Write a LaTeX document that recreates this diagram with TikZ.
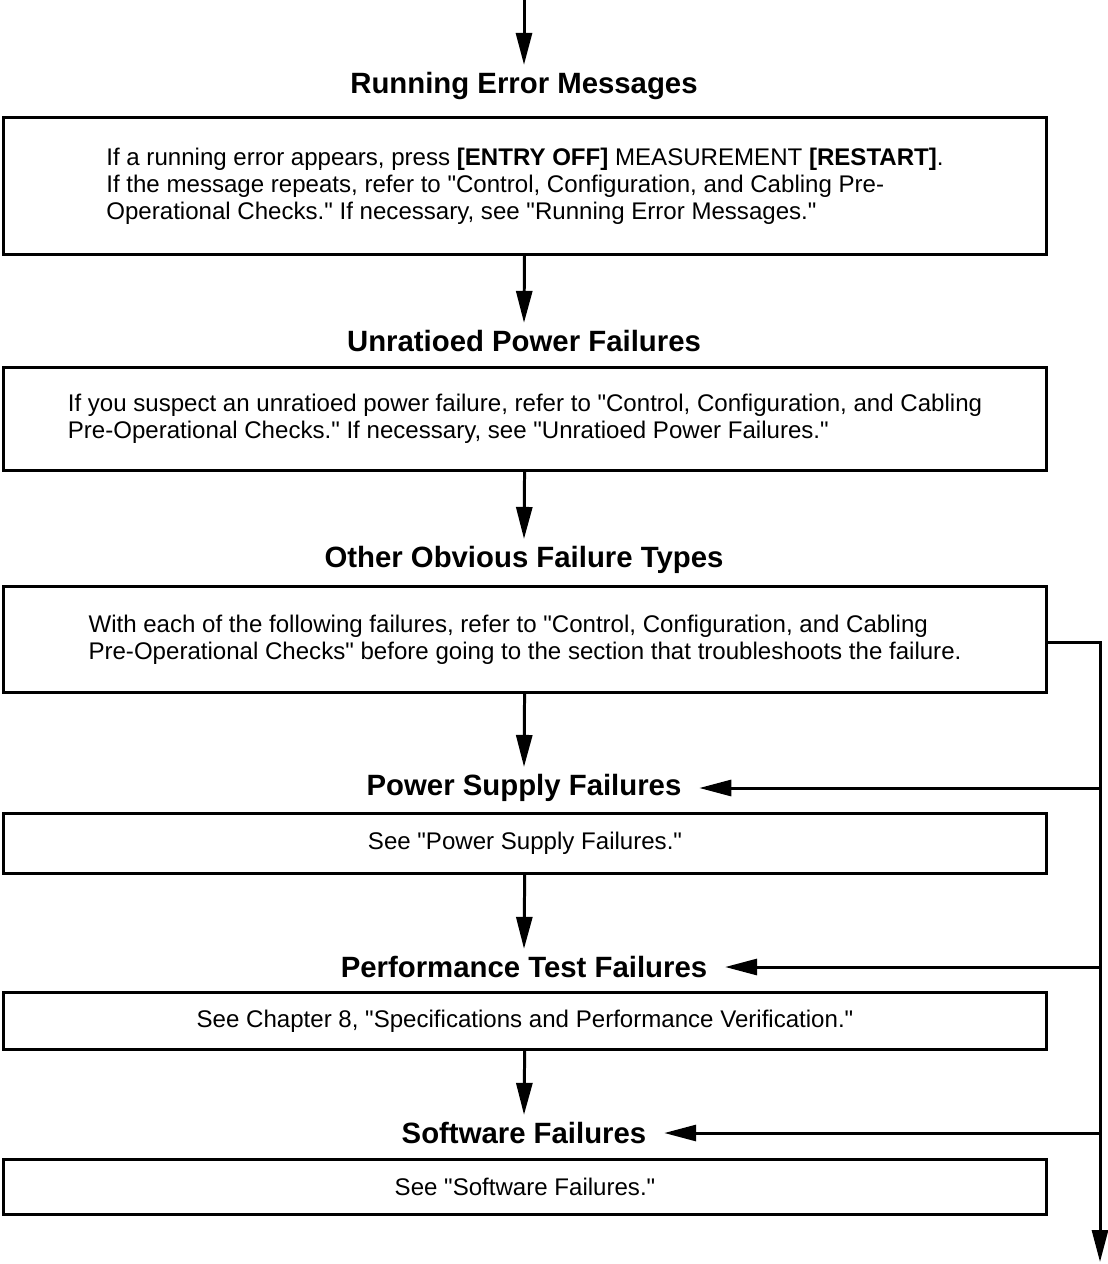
\documentclass[tikz,border=0pt]{standalone}
\usepackage{fontspec}
\setmainfont{Liberation Sans}[Ligatures=TeXOff]
\usetikzlibrary{arrows.meta,positioning}

\begin{document}
\begin{tikzpicture}[x=0.02cm,y=-0.02cm,
  head/.style={font=\fontsize{16.7}{19}\selectfont\bfseries,inner xsep=10pt,inner ysep=4pt},
  msg/.style ={draw,line width=1.7pt,minimum width=20.86cm,align=left,
               font=\fontsize{13.7}{15.4}\selectfont,inner sep=0pt},
  flow/.style={-{Triangle[length=0.64cm,width=0.32cm]},line width=1.7pt},
]
\useasboundingbox (0,0) rectangle (1107,1264);
\coordinate (start) at (524,0);

\node[head] (rerr) at (524,86) {Running Error Messages};
\node[msg,minimum height=2.73cm] (rerrbox) at (525,186)
  {If a running error appears, press \textbf{[ENTRY OFF]} MEASUREMENT \textbf{[RESTART]}.\\
   If the message repeats, refer to "Control, Configuration, and Cabling Pre-\\
   Operational Checks." If necessary, see "Running Error Messages."};

\node[head] (unrat) at (524,341) {Unratioed Power Failures};
\node[msg,minimum height=2.06cm] (unratbox) at (525,419)
  {If you suspect an unratioed power failure, refer to "Control, Configuration, and Cabling\\
   Pre-Operational Checks." If necessary, see "Unratioed Power Failures."};

\node[head] (other) at (524,560) {Other Obvious Failure Types};
\node[msg,minimum height=2.12cm] (otherbox) at (525,639.5)
  {With each of the following failures, refer to "Control, Configuration, and Cabling\\
   Pre-Operational Checks" before going to the section that troubleshoots the failure.};

\node[head] (psu) at (524,788) {Power Supply Failures};
\node[msg,minimum height=1.2cm] (psubox) at (525,843.5)
  {See "Power Supply Failures."};

\node[head] (perf) at (524,967) {Performance Test Failures};
\node[msg,minimum height=1.14cm] (perfbox) at (525,1021)
  {See Chapter 8, "Specifications and Performance Verification."};

\node[head] (soft) at (524,1133) {Software Failures};
\node[msg,minimum height=1.1cm] (softbox) at (525,1187)
  {See "Software Failures."};

\coordinate (rtop) at (1100,642);
\coordinate (rend) at (1100,1262);

% main flow
\draw[flow] (start)    -- (rerr.north);
\draw[flow] (rerrbox)  -- (unrat.north);
\draw[flow] (unratbox) -- (other.north);
\draw[flow] (otherbox) -- (psu.north);
\draw[flow] (psubox)   -- (perf.north);
\draw[flow] (perfbox)  -- (soft.north);

% bypass on the right
\draw[flow] (otherbox.east |- rtop) -- (rtop) -- (rend);
\draw[flow] (rtop |- psu)  -- (psu.east);
\draw[flow] (rtop |- perf) -- (perf.east);
\draw[flow] (rtop |- soft) -- (soft.east);
\end{tikzpicture}
\end{document}
